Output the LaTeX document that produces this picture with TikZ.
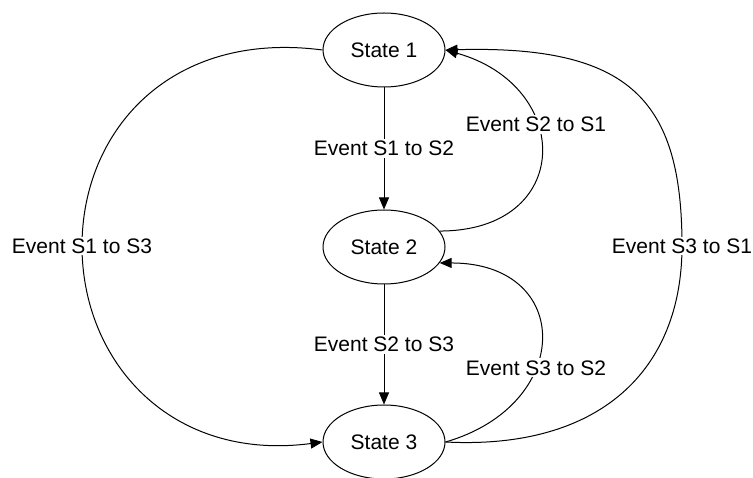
\documentclass[tikz,border=0pt]{standalone}
\usepackage{fontspec}
\setmainfont{Liberation Sans}
\usepackage{tikz}
\usetikzlibrary{shapes.geometric, arrows.meta, positioning}

\begin{document}
\begin{tikzpicture}[
    x=1pt, y=-1pt,
    every node/.style={font=\fontsize{21}{25}\selectfont},
    state/.style={ellipse, draw, line width=1pt,
                  minimum width=122pt, minimum height=74pt, inner sep=0pt},
    event/.style={fill=white, inner sep=2pt},
    trans/.style={line width=1pt, -{Triangle[length=12pt, width=10pt]}}
]
    \useasboundingbox (0,0) rectangle (753,478);

    \node[state] (s1) at (384,50) {State 1};
    \node[state, below=122pt of s1] (s2) {State 2};
    \node[state, below=120pt of s2] (s3) {State 3};

    % straight transitions
    \draw[trans] (s1) -- node[event] (e12) {Event S1 to S2} (s2);
    \draw[trans] (s2) -- node[event] (e23) {Event S2 to S3} (s3);

    % back transitions
    \draw[trans] (s2.16) .. controls (574,231) and (574,86) ..
        node[event, pos=0.62] (e21) {Event S2 to S1} (s1.east);
    \draw[trans] (s3.east) .. controls (574,405) and (574,263) ..
        node[event, pos=0.38] (e32) {Event S3 to S2} (s2.-16);

    % outer arcs
    \draw[trans] (s1.west) .. controls (170,30) and (82,131) .. (82,246)
        node[event] (e13) {Event S1 to S3}
        .. controls (82,361) and (170,462) .. (s3.west);
    \draw[trans] (s3.east) .. controls (600,450) and (682,370) .. (682,246)
        node[event] (e31) {Event S3 to S1}
        .. controls (682,100) and (630,45) .. (s1.east);
\end{tikzpicture}
\end{document}
